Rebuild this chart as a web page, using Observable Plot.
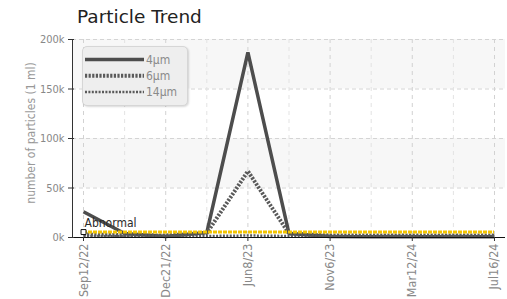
<!DOCTYPE html>
<html><head><meta charset="utf-8">
<script src="https://cdn.jsdelivr.net/npm/d3@7"></script>
<script src="https://cdn.jsdelivr.net/npm/@observablehq/plot@0.6"></script>
<style>
body{margin:0;background:#fff}
#wrap{position:relative;width:507px;height:299px;overflow:hidden;font-family:"DejaVu Sans Condensed","DejaVu Sans",sans-serif}
#title{height:30px;position:relative}
#title span{position:absolute;left:77px;top:6px;font-family:"DejaVu Sans";font-size:18.5px;color:#222;white-space:nowrap;line-height:normal}
#chart svg{display:block}
#ytitle{position:absolute;left:31px;top:133px;transform:translate(-50%,-50%) rotate(-90deg);font-size:12px;color:#999;white-space:nowrap;line-height:normal}
#legend{position:absolute;left:82px;top:46px;width:104px;height:58px;background:#eeeeee;border:1px solid #d6d6d6;border-radius:5px;box-shadow:1px 1px 2px rgba(0,0,0,.15)}
#legend svg{position:absolute;left:0;top:0;overflow:visible}
</style></head>
<body><div id="wrap"><div id="title"><span></span></div><div id="chart"></div><div id="ytitle"></div><div id="legend"></div></div>
<script>
const title = "Particle Trend";
const yTitle = "number of particles (1 ml)";
const samples = [0,1,2,3,4,5,6,7,8,9,10];
const tickSamples = [0,2,4,6,8,10];
const tickLabels = ["Sep12/22","Dec21/22","Jun8/23","Nov6/23","Mar12/24","Jul16/24"];
const seriesNames = ["4μm","6μm","14μm"];
const p4  = [26000, 4000, 1000, 5000, 187000, 4000, 1000, 800, 800, 800, 800];
const p6  = [3000, 2500, 2000, 4500, 67000, 4000, 2000, 2000, 2000, 2000, 2000];
const p14 = [1500, 1500, 1500, 1500, 2000, 1500, 1500, 1500, 1500, 1500, 1500];
const yTicks = [0, 50000, 100000, 150000, 200000];
const threshold = 5500;
const thresholdLabel = "Abnormal";

document.querySelector("#title span").textContent = title;
document.getElementById("ytitle").textContent = yTitle;

const styles = [
  {stroke:"#4d4d4d", strokeWidth:3.5, strokeDasharray:null},
  {stroke:"#5a5a5a", strokeWidth:4, strokeDasharray:"2.2,1.4"},
  {stroke:"#5a5a5a", strokeWidth:2.5, strokeDasharray:"2,1.4"}
];
const seriesValues = [p4, p6, p14];
const xMin = -0.268, xMax = 10.268;
const bands = [[yTicks[1], yTicks[2]], [yTicks[3], yTicks[4]]];

const lineMarks = seriesValues.map((vals, k) => {
  const rows = samples.map((s, i) => ({s, v: vals[i]}));
  const st = styles[k];
  const o = {x:"s", y:"v", stroke:st.stroke, strokeWidth:st.strokeWidth, strokeLinejoin:"miter", strokeLinecap:"butt"};
  if (st.strokeDasharray) o.strokeDasharray = st.strokeDasharray;
  return Plot.line(rows, o);
});

const chart = Plot.plot({
  width:507, height:269,
  marginLeft:72, marginRight:2, marginTop:9, marginBottom:62,
  x:{domain:[xMin, xMax]},
  y:{domain:[0, 200000]},
  style:{fontFamily:"DejaVu Sans Condensed, DejaVu Sans, sans-serif", background:"transparent", overflow:"visible"},
  marks:[
    Plot.rect(bands, {x1:() => xMin, x2:() => xMax, y1:d => d[0], y2:d => d[1], fill:"#f7f7f7"}),
    Plot.gridY(yTicks.slice(1), {stroke:"#d4d4d4", strokeOpacity:1, strokeDasharray:"4,3"}),
    Plot.gridX(samples.filter(s => !tickSamples.includes(s)), {stroke:"#e3e3e3", strokeOpacity:1, strokeDasharray:"4,4"}),
    Plot.gridX(tickSamples, {stroke:"#d2d2d2", strokeOpacity:1, strokeDasharray:"4,4"}),
    ...lineMarks,
    Plot.ruleY([threshold], {x1:samples[0], x2:samples[samples.length-1], stroke:"#f2c300", strokeWidth:3, strokeDasharray:"4,1"}),
    Plot.ruleY([0], {stroke:"#111"}),
    Plot.ruleX([xMin], {stroke:"#333"}),
    Plot.dot([threshold], {x:samples[0], y:d => d, symbol:"square", r:2.8, fill:"white", stroke:"#111", strokeWidth:1}),
    Plot.text([thresholdLabel], {x:samples[0], y:threshold, text:d => d, textAnchor:"start", dx:1, dy:-9, fill:"#2a2a2a", fontSize:12}),
    Plot.axisY({ticks:yTicks, tickFormat:d => d/1000 + "k", tickSize:6, dx:2, tickPadding:4, fill:"#888", stroke:"#333", fontSize:11, label:null}),
    Plot.axisX({ticks:tickSamples, tickFormat:d => tickLabels[tickSamples.indexOf(d)], tickRotate:-90, tickSize:4, tickPadding:2, fill:"#888", stroke:"#333", fontSize:12.5, label:null})
  ]
});
document.getElementById("chart").appendChild(chart);

// legend
const ns = "http://www.w3.org/2000/svg";
const lsvg = document.createElementNS(ns, "svg");
lsvg.setAttribute("width", 104); lsvg.setAttribute("height", 58);
seriesNames.forEach((name, k) => {
  const y = 12.5 + k * 16.3;
  const st = styles[k];
  const ln = document.createElementNS(ns, "line");
  ln.setAttribute("x1", 2); ln.setAttribute("x2", 61);
  ln.setAttribute("y1", y); ln.setAttribute("y2", y);
  ln.setAttribute("stroke", st.stroke); ln.setAttribute("stroke-width", st.strokeWidth);
  if (st.strokeDasharray) ln.setAttribute("stroke-dasharray", st.strokeDasharray);
  lsvg.appendChild(ln);
  const tx = document.createElementNS(ns, "text");
  tx.setAttribute("x", 63); tx.setAttribute("y", y + 4.3);
  tx.setAttribute("fill", "#8a8a8a");
  tx.setAttribute("font-size", 12);
  tx.setAttribute("font-family", "DejaVu Sans Condensed, DejaVu Sans, sans-serif");
  tx.textContent = name;
  lsvg.appendChild(tx);
});
document.getElementById("legend").appendChild(lsvg);
</script>
</body></html>
